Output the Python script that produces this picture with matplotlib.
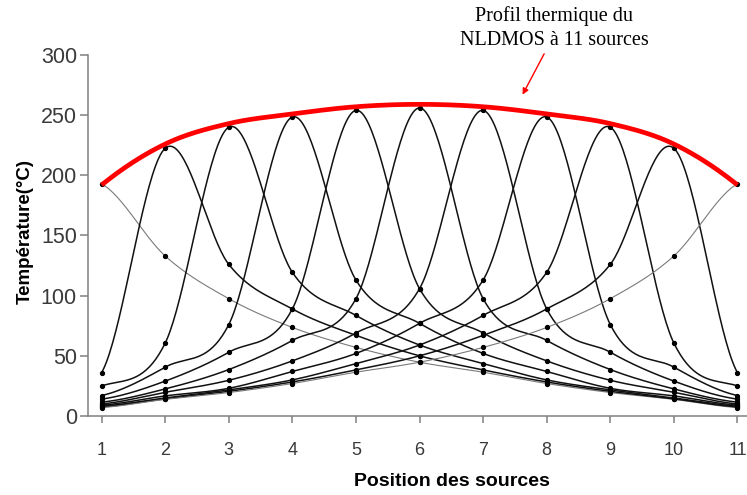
import numpy as np
import matplotlib
matplotlib.use('Agg')
import matplotlib.pyplot as plt

positions = [1, 2, 3, 4, 5, 6, 7, 8, 9, 10, 11]

# temperature (°C) at each source position, one curve per heated source
source_1 = [193, 133, 97.5, 73.6, 57, 44.7, 36.4, 27, 19.5, 13.8, 7]
source_2 = [36, 222.5, 126, 89, 67, 50, 38.3, 28.3, 20.5, 14.3, 7.6]
source_3 = [25, 60.6, 240, 119.4, 83.6, 59, 43.6, 30, 21.7, 15, 8.2]
source_4 = [17, 40.6, 76, 248.5, 113, 77, 52, 37, 23, 16.7, 9]
source_5 = [14, 29, 53, 89, 254, 105.8, 69, 45.8, 29.7, 19.7, 10]
source_6 = [11.5, 22.5, 38.6, 62.8, 97.5, 256, 97.5, 62.8, 38.6, 22.5, 11.5]
source_7 = [10, 19.7, 29.7, 45.8, 69, 105.8, 254, 89, 53, 29, 14]
source_8 = [9, 16.7, 23, 37, 52, 77, 113, 248.5, 76, 40.6, 17]
source_9 = [8.2, 15, 21.7, 30, 43.6, 59, 83.6, 119.4, 240, 60.6, 25]
source_10 = [7.6, 14.3, 20.5, 28.3, 38.3, 50, 67, 89, 126, 222.5, 36]
source_11 = [7, 13.8, 19.5, 27, 36.4, 44.7, 57, 73.6, 97.5, 133, 193]

# thermal profile of the 11-source NLDMOS (red envelope)
profile = [192, 226, 243, 251, 257, 259, 257, 251, 243, 226, 192]

curves = [source_1, source_2, source_3, source_4, source_5, source_6,
          source_7, source_8, source_9, source_10, source_11]


def smooth(x, y, n=40, arc_ends=False):
    # Excel-like smoothed line (Catmull-Rom through the points)
    x = np.asarray(x, float)
    y = np.asarray(y, float)
    m = np.empty_like(y)
    m[1:-1] = (y[2:] - y[:-2]) / 2
    if arc_ends:
        m[0] = 2*(y[1] - y[0]) - m[1]
        m[-1] = 2*(y[-1] - y[-2]) - m[-2]
    else:
        m[0] = (y[1] - y[0]) / 2
        m[-1] = (y[-1] - y[-2]) / 2
    xs, ys = [], []
    for i in range(len(x) - 1):
        t = np.linspace(0, 1, n, endpoint=(i == len(x) - 2))
        h00 = 2*t**3 - 3*t**2 + 1
        h10 = t**3 - 2*t**2 + t
        h01 = -2*t**3 + 3*t**2
        h11 = t**3 - t**2
        xs.append(x[i] + t*(x[i+1] - x[i]))
        ys.append(h00*y[i] + h10*m[i] + h01*y[i+1] + h11*m[i+1])
    return np.concatenate(xs), np.concatenate(ys)


fig = plt.figure(figsize=(7.47, 4.95), dpi=100)
ax = fig.add_axes([88/747, 1 - 416/495, 1 - 88/747, (416 - 55)/495])

for i, c in enumerate(curves):
    edge = i in (0, len(curves) - 1)
    col = '#7a7a7a' if edge else '#111111'
    lw = 0.8 if edge else 1.1
    sx, sy = smooth(positions, c)
    ax.plot(sx, sy, color=col, lw=lw, zorder=2)
    ax.plot(positions, c, 'o', color='black', ms=2.8, zorder=3)

sx, sy = smooth(positions, profile, arc_ends=True)
ax.plot(sx, sy, color='#ff0000', lw=3.4, zorder=4, solid_capstyle='butt')

ax.set_xlim(0.786, 11.15)
ax.set_ylim(0, 300)
ax.set_xticks(positions)
ax.set_yticks([0, 50, 100, 150, 200, 250, 300])
for s in ('top', 'right'):
    ax.spines[s].set_visible(False)
for s in ('left', 'bottom'):
    ax.spines[s].set_color('#808080')
    ax.spines[s].set_linewidth(1.1)
ax.tick_params(axis='y', direction='out', length=6, width=1.1, color='#808080',
               labelsize=15.5, labelcolor='#3a3a3a', pad=2)
ax.tick_params(axis='x', direction='out', length=5, width=1.1, color='#808080',
               labelsize=13, labelcolor='#3a3a3a', pad=14)
for lab in ax.get_xticklabels() + ax.get_yticklabels():
    lab.set_family('Liberation Sans')

fig.text(25/747, 1 - 232/495, 'Température(°C)', rotation=90, ha='center', va='center',
         fontsize=13.5, fontweight='bold', family='Liberation Sans')
fig.text(452/747, 1 - 481/495, 'Position des sources', ha='center', va='center',
         fontsize=14, fontweight='bold', family='Liberation Sans')

fig.text(554/747, 1 - 28/495, 'Profil thermique du\nNLDMOS à 11 sources', ha='center',
         va='center', fontsize=14.5, family='Liberation Serif', linespacing=1.3)
ax.annotate('', xy=(7.62, 267), xytext=(7.96, 301), annotation_clip=False,
            arrowprops=dict(arrowstyle='-|>', color='red', lw=1, mutation_scale=9,
                            shrinkA=0, shrinkB=0))

fig.savefig('out.png', dpi=100)
